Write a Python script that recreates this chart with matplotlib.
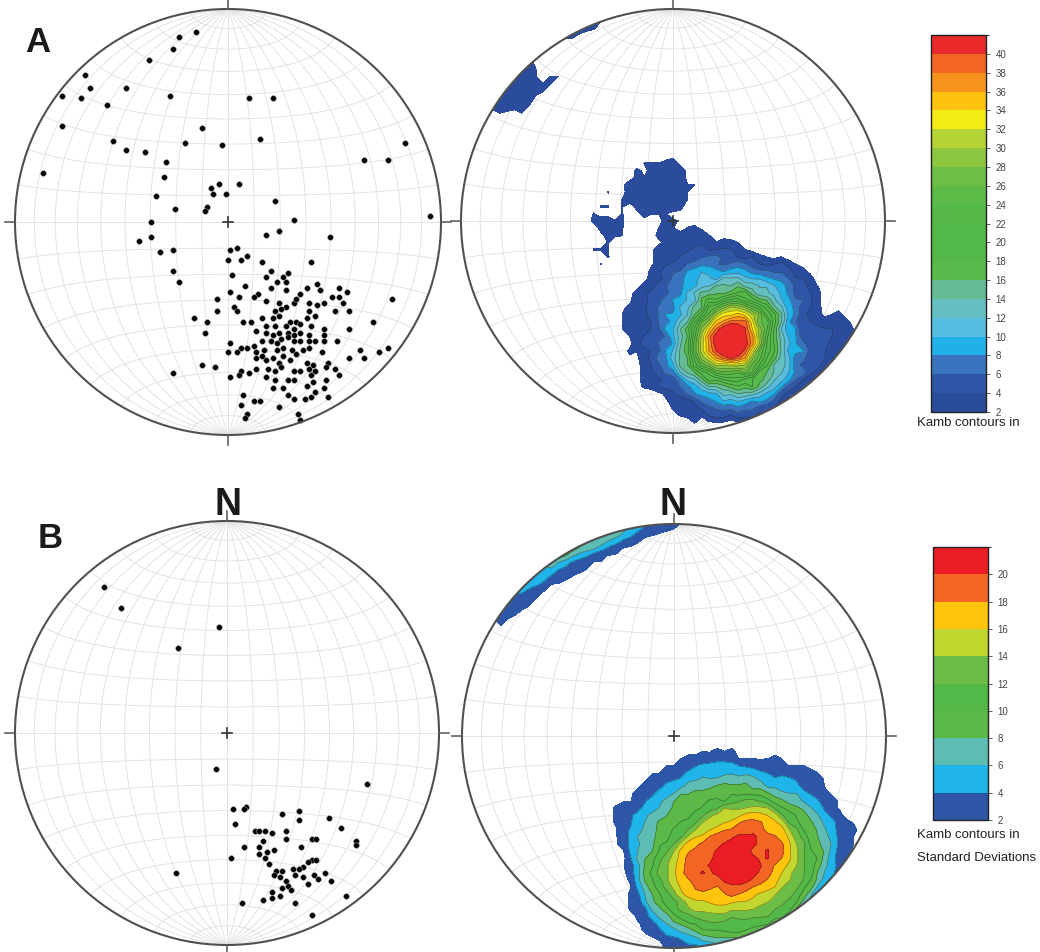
import numpy as np
import matplotlib
matplotlib.use("Agg")
import matplotlib.pyplot as plt
import matplotlib.cm as cm
from matplotlib.colors import ListedColormap, BoundaryNorm
from matplotlib.patches import Circle

plt.rcParams['font.family'] = ['Liberation Sans', 'DejaVu Sans']

# Set A poles: position on the equal-area net, east / north in % of primitive radius
a_east = [-15, -23, -26, -37, -67, -65, -48, -78, -69, -27, -57, 10, 21, -78, -12, 15, -54, -20, -3, 83,
          -48, -39, -29, 64, 75, -87, -30, -8, -4, 5, -7, -1, -34, 22, -10, -11, -25, 95, -36, 31,
          -36, -42, 18, 24, 48, -32, -26, 1, 4, 0, 6, 9, 16, 39, -26, 2, -23, 20, 28, 18,
          26, 23, 27, 8, 20, 27, 34, 37, 42, 43, 52, 56, 49, 52, 54, 14, 12, 1, 5, -5,
          3, 4, 18, 24, 27, 31, 32, 38, 42, 45, 50, 57, -5, 22, 25, 38, -16, -10, 7, 11,
          16, 21, 24, 29, 32, 34, 41, 45, 68, 57, 18, 22, 27, 31, 39, -11, 13, 37, 18, 21,
          24, 28, 31, 34, 38, 45, 1, 6, 9, 12, 16, 20, 23, 25, 28, 31, 34, 38, 41, 45,
          51, 0, 4, 13, 17, 23, 26, 30, 35, 38, 44, 62, 75, 71, 64, 57, 32, 13, 16, 18,
          21, 24, 26, 29, 37, 40, 47, -12, -6, 10, 6, 13, 19, 22, 25, 31, 34, 38, 41, 46,
          50, 52, 46, -26, 1, 5, 18, 22, 28, 31, 39, 40, 37, 21, 26, 45, 28, 31, 36, 39,
          41, 47, 7, 12, 15, 24, 6, 33, 9, 8, 34, 77]
a_north = [89, 87, 81, 76, 69, 63, 63, 59, 58, 59, 55, 58, 58, 45, 44, 39, 38, 37, 36, 37,
           34, 33, 28, 29, 29, 23, 21, 16, 18, 18, 13, 13, 12, 10, 7, 5, 6, 3, 0, 1,
           -7, -9, -6, -4, -7, -14, -13, -13, -12, -18, -18, -16, -19, -19, -23, -25, -28, -23, -24, -26,
           -26, -28, -28, -30, -31, -32, -34, -31, -29, -32, -31, -33, -35, -35, -38, -34, -35, -33, -35, -36,
           -40, -42, -37, -38, -40, -38, -36, -38, -39, -38, -42, -42, -42, -42, -41, -42, -45, -47, -47, -47,
           -45, -45, -44, -47, -47, -48, -44, -50, -47, -50, -49, -49, -49, -50, -49, -52, -51, -45, -52, -53,
           -52, -52, -53, -52, -53, -53, -57, -59, -59, -58, -56, -56, -57, -55, -54, -56, -56, -56, -56, -56,
           -56, -61, -61, -61, -60, -60, -59, -60, -60, -59, -61, -60, -59, -61, -64, -64, -62, -64, -63, -65,
           -64, -66, -63, -65, -66, -67, -66, -67, -68, -71, -70, -69, -69, -70, -68, -70, -70, -69, -70, -68,
           -69, -72, -74, -71, -73, -72, -73, -74, -74, -74, -72, -75, -77, -78, -78, -78, -81, -83, -83, -82,
           -80, -82, -81, -84, -84, -87, -86, -90, -90, -92, -93, -36]
# number of measurements stacked under each plotted dot of set A
a_stack = [1, 1, 1, 1, 2, 1, 1, 2, 1, 1, 1, 1, 1, 1, 1, 1, 1, 1, 1, 1,
           1, 1, 1, 1, 1, 1, 1, 2, 2, 2, 1, 1, 1, 1, 1, 1, 2, 1, 1, 1,
           1, 1, 1, 1, 1, 1, 1, 2, 2, 1, 1, 1, 1, 1, 1, 2, 1, 2, 2, 2,
           2, 2, 2, 2, 2, 2, 2, 2, 2, 2, 2, 2, 2, 2, 2, 2, 2, 2, 2, 2,
           2, 2, 2, 2, 2, 2, 2, 2, 2, 2, 2, 2, 2, 2, 2, 2, 2, 2, 2, 2,
           2, 3, 3, 3, 3, 3, 2, 2, 2, 2, 3, 3, 3, 3, 3, 2, 2, 2, 3, 3,
           4, 4, 4, 3, 3, 2, 2, 2, 2, 2, 3, 3, 4, 4, 4, 4, 3, 3, 3, 2,
           2, 2, 2, 2, 3, 3, 4, 4, 3, 3, 2, 2, 2, 2, 2, 2, 3, 2, 3, 3,
           3, 3, 3, 3, 3, 2, 2, 2, 2, 2, 2, 2, 2, 2, 3, 2, 2, 2, 2, 2,
           2, 2, 2, 1, 2, 2, 2, 2, 2, 2, 2, 2, 2, 2, 2, 2, 2, 2, 2, 2,
           2, 2, 1, 1, 1, 1, 1, 1, 1, 1, 1, 2]

# Set B poles
b_east = [-58, -50, -4, -23, -5, 66, 9, 8, 3, 26, 34, 34, 48, 4, 54, 13, 15, 18, 21, 28,
          28, 40, 42, 61, 61, 17, 8, 15, 22, 19, 35, 2, 15, 18, 40, 42, 38, 20, 36, 34,
          31, -24, 23, 26, 22, 25, 28, 32, 36, 41, 46, 43, 49, 38, 29, 30, 26, 21, 25, 21,
          17, 56, 7, 32, 40]
b_north = [69, 59, 50, 40, -17, -24, -35, -36, -36, -38, -37, -41, -40, -43, -45, -46, -46, -46, -47, -46,
           -50, -50, -50, -51, -53, -51, -54, -54, -55, -56, -54, -59, -57, -59, -60, -60, -61, -62, -63, -64,
           -64, -66, -65, -65, -67, -68, -70, -67, -68, -67, -66, -69, -70, -71, -72, -74, -73, -75, -77, -78,
           -79, -77, -80, -80, -86]

# Kamb contour classes (standard deviations) and their fill colours
a_levels = list(range(2, 44, 2))
a_colors = ['#2b4c9c', '#2f56a6', '#3a73bd', '#1fb1e7', '#56bde0', '#63bfc0', '#64bb94', '#57b84c',
            '#52b848', '#52b848', '#54b947', '#5cba46', '#6cbe44', '#8dc63f', '#b5d334', '#f2eb16',
            '#fec20e', '#f7941d', '#f26522', '#ea2a2a']
a_ticks = list(range(2, 42, 2))
b_levels = list(range(2, 24, 2))
b_colors = ['#2e56a6', '#1fb5ea', '#5dbdb5', '#5cb947', '#52b848', '#6cbd45', '#c1d72f', '#fec40e',
            '#f26522', '#ec1c24']
b_ticks = list(range(2, 22, 2))

W, H = 1040, 952
fig = plt.figure(figsize=(W / 100, H / 100), dpi=100)
fig.patch.set_facecolor('white')


def net_ax(cx, cy, R, half=1.1):
    s = 2 * half * R
    ax = fig.add_axes([(cx - s / 2) / W, 1 - (cy + s / 2) / H, s / W, s / H])
    ax.set_xlim(-half, half)
    ax.set_ylim(-half, half)
    ax.set_aspect('equal')
    ax.axis('off')
    return ax


def project(x, y, z):
    k = 1 / np.sqrt(1 + z)
    return x * k, y * k


def to_vec(e, n):
    X = np.asarray(e, float) / 100
    Y = np.asarray(n, float) / 100
    r2 = X ** 2 + Y ** 2
    k = np.sqrt(2 - r2)
    return np.stack([X * k, Y * k, 1 - r2], -1)


def draw_net(ax):
    t = np.radians(np.linspace(-90, 90, 181))
    for g in range(-80, 90, 10):
        gr = np.radians(g)
        # meridian (great circle through N and S)
        x = np.cos(t) * np.sin(gr)
        y = np.sin(t)
        z = np.cos(t) * np.cos(gr)
        ax.plot(*project(x, y, z), color='#e3e3e3', lw=0.7, zorder=1)
        # small circle about the N-S axis
        x = np.cos(gr) * np.sin(t)
        y = np.full_like(t, np.sin(gr))
        z = np.cos(gr) * np.cos(t)
        ax.plot(*project(x, y, z), color='#e3e3e3', lw=0.7, zorder=1)
    ax.add_patch(Circle((0, 0), 1, fill=False, ec='#505050', lw=1.5, zorder=6))
    for dx, dy in [(1, 0), (-1, 0), (0, 1), (0, -1)]:
        ax.plot([dx, dx * 1.045], [dy, dy * 1.045], color='#606060', lw=1.2, zorder=6)
    ax.plot([-0.025, 0.025], [0, 0], color='#333333', lw=1.2, zorder=7)
    ax.plot([0, 0], [-0.025, 0.025], color='#333333', lw=1.2, zorder=7)


def kamb(e, n, w=None, res=61):
    v = to_vec(e, n)
    w = np.ones(len(v)) if w is None else np.asarray(w, float)
    N = w.sum()
    a = 9.0 / (N + 9.0)
    g = np.linspace(-1.02, 1.02, res)
    GX, GY = np.meshgrid(g, g)
    r = np.hypot(GX, GY)
    s = np.where(r > 1, 1 / np.maximum(r, 1e-9), 1)
    gv = to_vec(GX * s * 100, GY * s * 100)
    c = np.abs(gv @ v.T)
    count = (c >= 1 - a).astype(float) @ w
    return GX, GY, count / np.sqrt(N * a * (1 - a))


def contour_net(ax, e, n, levels, colors, w=None):
    GX, GY, d = kamb(e, n, w)
    lv = list(levels[:-1]) + [max(levels[-1], d.max() + 1)]
    clip = Circle((0, 0), 1, transform=ax.transData)
    cf = ax.contourf(GX, GY, d, levels=lv, colors=colors, zorder=3)
    cf.set_clip_path(clip)
    cl = ax.contour(GX, GY, d, levels=levels[1:-1], colors='#1a1a1a', linewidths=0.4, alpha=0.6, zorder=4)
    cl.set_clip_path(clip)


def colorbar(rect, levels, colors, ticks):
    cax = fig.add_axes(rect)
    norm = BoundaryNorm(levels, len(colors))
    sm = cm.ScalarMappable(norm=norm, cmap=ListedColormap(colors))
    cb = fig.colorbar(sm, cax=cax, ticks=ticks)
    cb.outline.set_linewidth(1.0)
    cb.outline.set_edgecolor('#222222')
    cax.tick_params(labelsize=7, length=3, width=0.6, colors='#444444', pad=4)
    return cb


# A
ax = net_ax(228, 222, 213)
draw_net(ax)
ax.scatter(np.array(a_east) / 100, np.array(a_north) / 100, s=17, c='black',
           edgecolors='#a0a0a0', linewidths=0.4, zorder=5)

ax = net_ax(673, 221, 212)
draw_net(ax)
contour_net(ax, a_east, a_north, a_levels, a_colors, a_stack)

# B
ax = net_ax(227, 733, 212)
draw_net(ax)
ax.scatter(np.array(b_east) / 100, np.array(b_north) / 100, s=17, c='black',
           edgecolors='#a0a0a0', linewidths=0.4, zorder=5)

ax = net_ax(674, 736, 212)
draw_net(ax)
contour_net(ax, b_east, b_north, b_levels, b_colors)

colorbar([931 / W, 1 - 412 / H, 55 / W, 377 / H], a_levels, a_colors, a_ticks)
colorbar([933 / W, 1 - 820 / H, 55 / W, 273 / H], b_levels, b_colors, b_ticks)

fig.text(917 / W, 1 - 423 / H, 'Kamb contours in', fontsize=9.5, ha='left', va='center', color='#222222')
fig.text(917 / W, 1 - 835 / H, 'Kamb contours in', fontsize=9.5, ha='left', va='center', color='#222222')
fig.text(917 / W, 1 - 858 / H, 'Standard Deviations', fontsize=9.5, ha='left', va='center', color='#222222')

fig.text(38 / W, 1 - 52 / H, 'A', fontsize=25, fontweight='bold', ha='center', va='baseline', color='#1a1a1a')
fig.text(50 / W, 1 - 548 / H, 'B', fontsize=25, fontweight='bold', ha='center', va='baseline', color='#1a1a1a')
fig.text(228 / W, 1 - 515 / H, 'N', fontsize=27, fontweight='bold', ha='center', va='baseline', color='#1a1a1a')
fig.text(673 / W, 1 - 515 / H, 'N', fontsize=27, fontweight='bold', ha='center', va='baseline', color='#1a1a1a')

fig.savefig('out.png', dpi=100, facecolor='white')
